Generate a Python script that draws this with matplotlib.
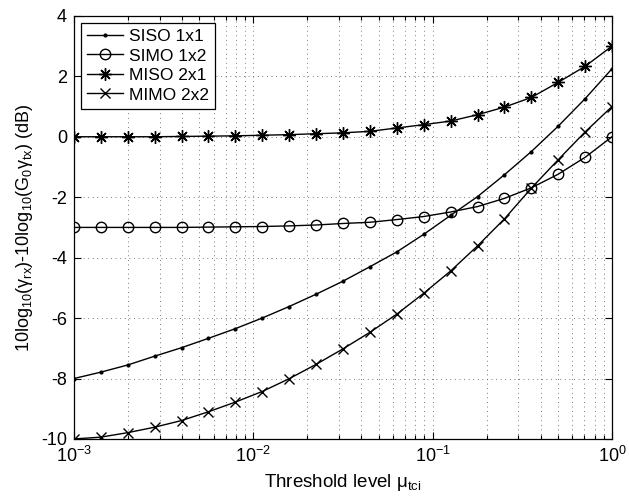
import numpy as np
import matplotlib
matplotlib.use('Agg')
import matplotlib.pyplot as plt
from matplotlib.ticker import LogLocator, NullFormatter, FixedLocator

plt.rcParams['font.family'] = ['Liberation Sans', 'DejaVu Sans']
plt.rcParams['mathtext.fontset'] = 'custom'
plt.rcParams['mathtext.rm'] = 'Liberation Sans'
plt.rcParams['mathtext.it'] = 'Liberation Sans:italic'
plt.rcParams['mathtext.bf'] = 'Liberation Sans:bold'
plt.rcParams['axes.unicode_minus'] = False

# umbral mu_tci (eje log)
umbral = [0.001, 0.00141, 0.002, 0.00282, 0.00398, 0.00562, 0.00794, 0.0112,
          0.0158, 0.0224, 0.0316, 0.0447, 0.0631, 0.0891, 0.126, 0.178,
          0.251, 0.355, 0.501, 0.708, 1.0]

# ganancia relativa en dB para cada configuracion
siso = [-8.0, -7.79, -7.55, -7.26, -6.98, -6.67, -6.35, -6.00, -5.62, -5.21,
        -4.78, -4.30, -3.81, -3.23, -2.60, -1.98, -1.26, -0.49, 0.35, 1.26, 2.25]
simo = [-3.0, -3.0, -3.0, -3.0, -3.0, -2.99, -2.98, -2.97, -2.95, -2.92,
        -2.87, -2.83, -2.74, -2.64, -2.49, -2.31, -2.04, -1.69, -1.24, -0.68, 0.0]
miso = [0.0, 0.0, 0.0, 0.0, 0.01, 0.02, 0.03, 0.05, 0.07, 0.10,
        0.13, 0.18, 0.29, 0.40, 0.52, 0.73, 0.98, 1.30, 1.80, 2.33, 3.0]
mimo = [-10.0, -9.94, -9.79, -9.61, -9.39, -9.10, -8.78, -8.43, -8.01, -7.53,
        -7.02, -6.47, -5.87, -5.18, -4.44, -3.61, -2.72, -1.70, -0.76, 0.16, 1.0]

etiquetas = ['SISO 1x1', 'SIMO 1x2', 'MISO 2x1', 'MIMO 2x2']
yticks = [-10, -8, -6, -4, -2, 0, 2, 4]

fig = plt.figure(figsize=(6.29, 4.96), dpi=100)
ax = fig.add_axes([0.1176, 0.115, 0.8554, 0.853])

lw = 1.0
ax.semilogx(umbral, siso, '-', color='k', lw=lw, marker='.', ms=4, label=etiquetas[0])
ax.semilogx(umbral, simo, '-', color='k', lw=lw, marker='o', ms=7.5, mfc='none',
            mew=1.0, label=etiquetas[1])
ax.semilogx(umbral, miso, '-', color='k', lw=lw, marker=(8, 2, 0), ms=9,
            mew=1.0, label=etiquetas[2])
ax.semilogx(umbral, mimo, '-', color='k', lw=lw, marker='x', ms=7,
            mew=1.0, label=etiquetas[3])

ax.set_xlim(1e-3, 1)
ax.set_ylim(-10, 4)
ax.yaxis.set_major_locator(FixedLocator(yticks))
ax.xaxis.set_major_locator(LogLocator(base=10, numticks=10))
ax.xaxis.set_minor_locator(LogLocator(base=10, subs=np.arange(2, 10), numticks=10))
ax.xaxis.set_minor_formatter(NullFormatter())

# rejilla punteada tipo matlab
grid_kw = dict(color='0.3', linestyle=(0, (1, 4.5)), linewidth=0.6)
ax.grid(True, which='major', **grid_kw)
ax.grid(True, which='minor', axis='x', **grid_kw)

ax.tick_params(which='both', direction='in', top=True, right=True,
               labelsize=13, width=0.8, colors='k')
ax.tick_params(which='major', length=5, pad=5)
ax.tick_params(which='minor', length=3)
for s in ax.spines.values():
    s.set_linewidth(0.9)

ax.set_xlabel('Threshold level μ$_{\\mathrm{tci}}$', fontsize=13.5, labelpad=4)
ax.set_ylabel('10log$_{10}$(γ$_{\\mathrm{rx}}$)-10log$_{10}$(G$_{0}$γ$_{\\mathrm{tx}}$) (dB)',
              fontsize=13, labelpad=4)

leg = ax.legend(loc='upper left', fontsize=12.5, handlelength=2.1,
                borderaxespad=0.4, labelspacing=0.25, handletextpad=0.3,
                borderpad=0.35, fancybox=False, framealpha=1, edgecolor='k')
leg.get_frame().set_linewidth(0.9)

fig.savefig('out.png', dpi=100)
